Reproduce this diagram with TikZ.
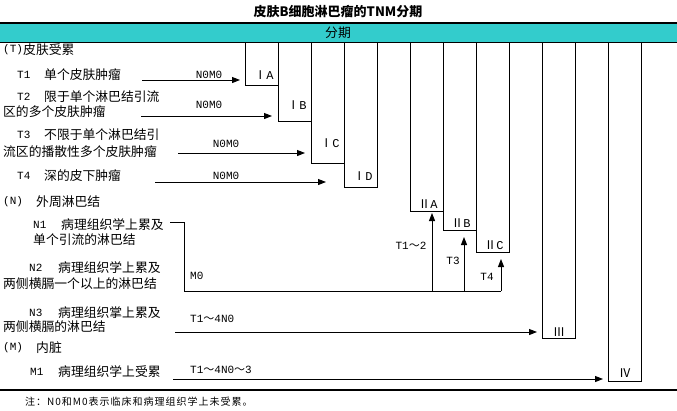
\documentclass[tikz,border=0pt]{standalone}
\usepackage{fontspec}
\setmainfont{Noto Sans CJK SC}
\newfontfamily\lat{Liberation Mono}
\usetikzlibrary{arrows.meta,calc}
\definecolor{teal1}{HTML}{33CCCC}
\begin{document}
\begin{tikzpicture}[x=1pt,y=-1pt,
 txt/.style={anchor=west,inner sep=0pt,font=\fontsize{12.8}{14}\selectfont},
 lt/.style={anchor=west,inner sep=0pt,font=\lat\fontsize{11}{13}\selectfont},
 lbl/.style={inner sep=0pt,font=\lat\fontsize{11}{13}\selectfont},
 lblw/.style={anchor=west,inner sep=0pt,font=\lat\fontsize{11}{13}\selectfont},
 stage/.style={draw,line width=1pt,anchor=north west,minimum width=33pt,inner sep=0pt,outer sep=0pt},
 stg/.style={inner sep=0pt,font=\fontsize{12}{14}\selectfont},
 arr/.style={line width=1pt,-{Triangle[length=8pt,width=6pt]}},
 ln/.style={line width=1pt}]
\useasboundingbox (0,0) rectangle (677,410);
\fill[white] (0,0) rectangle (677,410);
% title and header band
\node[font=\bfseries\fontsize{13}{15}\selectfont] (title) at (338,12) {皮肤B细胞淋巴瘤的TNM分期};
\fill[teal1] (0,23) rectangle (677,42);
\draw[line width=2.5pt] (0,23) -- (677,23);
\draw[ln] (0,42) -- (677,42);
\node[font=\fontsize{12.8}{14}\selectfont,inner sep=0pt] (hdr) at (338,33) {分期};
% stage boxes
\node[stage,minimum height=43pt] (IA) at (245,42) {};
\node[stage,minimum height=79pt] (IB) at (278,42) {};
\node[stage,minimum height=121pt] (IC) at (311,42) {};
\node[stage,minimum height=145pt] (ID) at (344,42) {};
\node[stage,minimum height=169pt] (IIA) at (410,42) {};
\node[stage,minimum height=188pt] (IIB) at (443,42) {};
\node[stage,minimum height=210pt] (IIC) at (476,42) {};
\node[stage,minimum height=296pt] (III) at (542,42) {};
\node[stage,minimum height=339pt] (IV) at (608,42) {};
\node[stg] (sIA) at (264,75) {Ⅰ{\lat A}};
\node[stg] (sIB) at (297,105) {Ⅰ{\lat B}};
\node[stg] (sIC) at (330,143) {Ⅰ{\lat C}};
\node[stg] (sID) at (363,176) {Ⅰ{\lat D}};
\node[stg] (sIIA) at (428,204) {Ⅱ{\lat A}};
\node[stg] (sIIB) at (461,223) {Ⅱ{\lat B}};
\node[stg] (sIIC) at (494,245) {Ⅱ{\lat C}};
\node[stg] (sIII) at (559,332) {Ⅲ};
\node[stg] (sIV) at (625,373) {Ⅳ};
% left texts
\node[lt] (hT) at (3,50) {(T)}; \node[txt] (hTc) at (23,50) {皮肤受累};
\node[lt] (t1a) at (17,75) {T1}; \node[txt] (t1b) at (44,75) {单个皮肤肿瘤};
\node[lt] (t2a) at (17,97) {T2}; \node[txt] (t2b) at (44,97) {限于单个淋巴结引流};
\node[txt] (t2c) at (3,112) {区的多个皮肤肿瘤};
\node[lt] (t3a) at (17,135) {T3}; \node[txt] (t3b) at (44,135) {不限于单个淋巴结引};
\node[txt] (t3c) at (3,152) {流区的播散性多个皮肤肿瘤};
\node[lt] (t4a) at (17,176) {T4}; \node[txt] (t4b) at (44,176) {深的皮下肿瘤};
\node[lt] (hN) at (3,202) {(N)}; \node[txt] (hNc) at (36,202) {外周淋巴结};
\node[lt] (n1a) at (33,225) {N1}; \node[txt] (n1b) at (61,225) {病理组织学上累及};
\node[txt] (n1c) at (33,240) {单个引流的淋巴结};
\node[lt] (n2a) at (29,268) {N2}; \node[txt] (n2b) at (58,268) {病理组织学上累及};
\node[txt] (n2c) at (3,284) {两侧横膈一个以上的淋巴结};
\node[lt] (n3a) at (29,313) {N3}; \node[txt] (n3b) at (58,313) {病理组织掌上累及};
\node[txt] (n3c) at (3,327) {两侧横膈的淋巴结};
\node[lt] (hM) at (3,348) {(M)}; \node[txt] (hMc) at (36,348) {内脏};
\node[lt] (m1a) at (30,372) {M1}; \node[txt] (m1b) at (58,372) {病理组织学上受累};
% connector labels
\node[lbl] (l1) at (209,75) {N0M0};
\node[lbl] (l2) at (209,105) {N0M0};
\node[lbl] (l3) at (226,144) {N0M0};
\node[lbl] (l4) at (226,176) {N0M0};
\node[lblw] (lm0) at (190,276) {M0};
\node[lbl] (la) at (411,246) {T1{\fontspec{Noto Sans CJK SC}～}2};
\node[lbl] (lb) at (453,261) {T3};
\node[lbl] (lc) at (487,277) {T4};
\node[lblw] (ln3) at (190,319) {T1{\fontspec{Noto Sans CJK SC}～}4N0};
\node[lblw] (lm1) at (190,370) {T1{\fontspec{Noto Sans CJK SC}～}4N0{\fontspec{Noto Sans CJK SC}～}3};
% connectors
\coordinate (t1s) at (142,80);
\coordinate (t2s) at (141,116);
\coordinate (t3s) at (178,153);
\coordinate (t4s) at (155,182);
\draw[arr] (t1s) -- ($(IA.west |- t1s)+(-5,0)$);
\draw[arr] (t2s) -- ($(IB.west |- t2s)+(-6,0)$);
\draw[arr] (t3s) -- ($(IC.west |- t3s)+(-6,0)$);
\draw[arr] (t4s) -- ($(ID.west |- t4s)+(-18,0)$);
\coordinate (n1s) at (170,222);
\coordinate (nk) at (184,222);
\coordinate (nb) at (184,291);
\coordinate (a1) at (432,291);
\coordinate (b1) at (464,291);
\coordinate (ne) at (501,291);
\draw[ln] (n1s) -- (nk) -- (nb) -- (ne);
\draw[arr] (a1) -- ($(a1 |- IIA.south)+(0,2)$);
\draw[arr] (b1) -- ($(b1 |- IIB.south)+(0,7)$);
\draw[arr] (ne) -- ($(ne |- IIC.south)+(0,7)$);
\coordinate (n3s) at (175,332);
\coordinate (m1s) at (173,379);
\draw[arr] (n3s) -- ($(III.west |- n3s)+(-5,0)$);
\draw[arr] (m1s) -- ($(IV.west |- m1s)+(-5,0)$);
% bottom rule and note
\draw[line width=2pt] (0,390) -- (677,390);
\node[anchor=west,inner sep=0pt,font=\fontsize{10}{12}\selectfont\addfontfeature{LetterSpace=10}] (note) at (25,402) {注：N0和M0表示临床和病理组织学上未受累。};
\end{tikzpicture}
\end{document}
